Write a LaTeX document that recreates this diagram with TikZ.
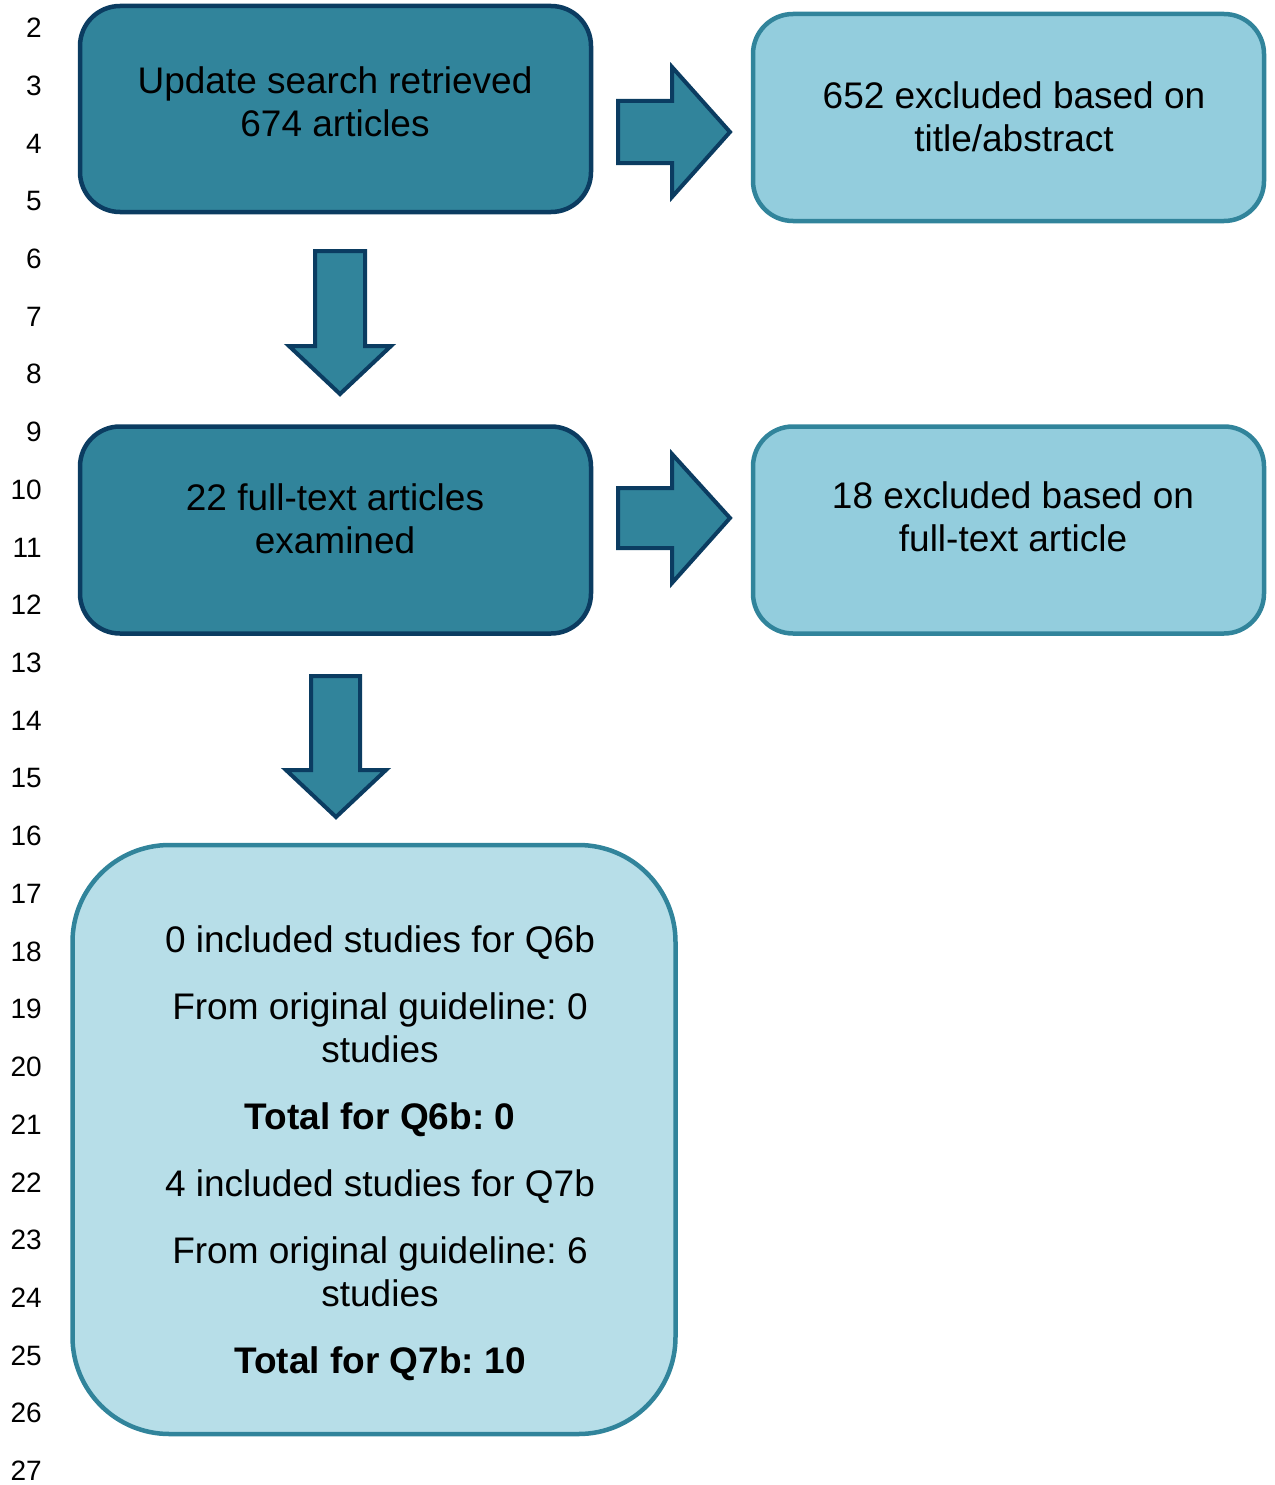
\documentclass[tikz,border=0pt]{standalone}
\usepackage{fontspec}
\setmainfont{Liberation Sans}
\frenchspacing
\definecolor{darkfill}{HTML}{31849B}
\definecolor{darkline}{HTML}{0B3C61}
\definecolor{lightfill}{HTML}{93CDDD}
\definecolor{lightline}{HTML}{31849B}
\definecolor{palefill}{HTML}{B7DEE8}
\begin{document}
\begin{tikzpicture}[x=1pt,y=-1pt]
\tikzset{
  darkbox/.style={draw=darkline, fill=darkfill, line width=4.5pt, rounded corners=40pt, inner sep=0pt},
  lightbox/.style={draw=lightline, fill=lightfill, line width=4.5pt, rounded corners=40pt, inner sep=0pt},
  palebox/.style={draw=lightline, fill=palefill, line width=4.5pt, rounded corners=97pt, inner sep=0pt},
  txt/.style={align=center, inner sep=0pt, font=\fontsize{37}{43}\selectfont},
  lnum/.style={anchor=east, inner sep=0pt, font=\fontsize{28}{30}\selectfont},
  blockarrow/.style={draw=darkline, fill=darkfill, line width=4pt, line join=miter}
}
\useasboundingbox (0,0) rectangle (1274,1485);

% line numbers
\foreach \i in {2,...,27}{
  \node[lnum] (ln\i) at (42,{28+57.72*(\i-2)}) {\i};
}

% boxes
\node[darkbox, minimum width=511pt, minimum height=206pt] (b1) at (335.5,109) {};
\node[lightbox, minimum width=511pt, minimum height=207pt] (b2) at (1008.5,117.5) {};
\node[darkbox, minimum width=511pt, minimum height=207pt] (b3) at (335.5,530) {};
\node[lightbox, minimum width=511pt, minimum height=207pt] (b4) at (1008.5,530) {};
\node[palebox, minimum width=603pt, minimum height=589pt] (b5) at (374,1139.5) {};

% texts
\node[txt] (t1) at (335,102) {Update search retrieved\\674 articles};
\node[txt] (t2) at (1014,117) {652 excluded based on\\title/abstract};
\node[txt] (t3) at (335,519) {22 full-text articles\\examined};
\node[txt] (t4) at (1013,517) {18 excluded based on\\full-text article};
\node[txt] (t5) at (380,1153.5) {0 included studies for Q6b\\[24pt]
From original guideline: 0\\studies\\[24pt]
\textbf{Total for Q6b: 0}\\[24pt]
4 included studies for Q7b\\[24pt]
From original guideline: 6\\studies\\[24pt]
\textbf{Total for Q7b: 10}};

% block arrows
\draw[blockarrow] (618,101) -- (672,101) -- (672,67) -- (730,132) -- (672,197) -- (672,163) -- (618,163) -- cycle;
\draw[blockarrow] (618,488) -- (672,488) -- (672,454) -- (730,518) -- (672,583) -- (672,548) -- (618,548) -- cycle;
\draw[blockarrow] (315,251) -- (365,251) -- (365,346) -- (391,346) -- (340,394) -- (289,346) -- (315,346) -- cycle;
\draw[blockarrow] (311,676) -- (360,676) -- (360,770) -- (386,770) -- (336,817) -- (286,770) -- (311,770) -- cycle;
\end{tikzpicture}
\end{document}
